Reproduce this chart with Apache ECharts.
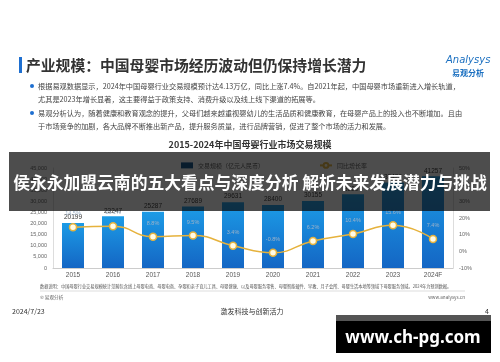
<!DOCTYPE html>
<html><head><meta charset="utf-8">
<script src="https://cdn.jsdelivr.net/npm/echarts@6/dist/echarts.min.js"></script>
<style>html,body{margin:0;padding:0;background:#fff;}#c{width:500px;height:362px;}</style>
</head><body><div id="c"></div>
<script>
const categories = ['2015','2016','2017','2018','2019','2020','2021','2022','2023','2024F'];
const scaleValues = [20199, 23247, 25287, 27689, 29631, 28400, 30155, 33200, 38420, 41257];
const growthValues = [14.5, 15.1, 8.8, 9.5, 3.4, -0.8, 6.2, 10.4, 15.6, 7.4];
const leftTicks = [0, 45000, 5000];
const rightTicks = [-10, 50, 10];

const CJK = '"Noto Sans CJK SC","Noto Sans",sans-serif';
const chart = echarts.init(document.getElementById('c'));
function txt(x, y, s, size, color, extra) {
  return Object.assign({type:'text', x:x, y:y, z:50, style: Object.assign({text:s, fontSize:size, fill:color, fontFamily:CJK, textVerticalAlign:'middle'}, extra||{})});
}
const bullet1a = '根据易观数据显示，2024年中国母婴行业交易规模预计达4.13万亿，同比上涨7.4%。自2021年起，中国母婴市场重新进入增长轨道，';
const bullet1b = '尤其是2023年增长显著，这主要得益于政策支持、消费升级以及线上线下渠道的拓展等。';
const bullet2a = '易观分析认为，随着健康和教育观念的提升，父母们越来越重视婴幼儿的生活品质和健康教育，在母婴产品上的投入也不断增加。且由';
const bullet2b = '于市场竞争的加剧，各大品牌不断推出新产品，提升服务质量，进行品牌营销，促进了整个市场的活力和发展。';
const note = '数据说明：中国母婴行业交易规模统计范畴包含线上母婴电商、母婴电商、孕婴和亲子育儿工具、母婴健康、以及母婴服务零售、母婴智能硬件、早教、月子会所、母婴生活本地等领域下母婴服务领域。2024年为预测数据。';

chart.setOption({
  backgroundColor:'#fff',
  animation:false,
  grid:{left:53, right:47, top:168, bottom:94},
  legend:{
    top:157, left:176, itemGap:55, itemWidth:12, itemHeight:6,
    textStyle:{fontSize:6, color:'#555', fontFamily:CJK},
    data:[{name:'交易规模（亿元人民币）', icon:'rect', itemStyle:{color:'#0d4f8a'}}, {name:'同比增长率'}]
  },
  xAxis:{type:'category', data:categories,
    axisLine:{lineStyle:{color:'#ccc'}}, axisTick:{show:false},
    axisLabel:{fontSize:6.5, color:'#555', margin:4}},
  yAxis:[
    {type:'value', min:leftTicks[0], max:leftTicks[1], interval:leftTicks[2],
      axisLine:{show:true, lineStyle:{color:'#ddd'}}, splitLine:{show:false},
      axisLabel:{fontSize:5.5, color:'#666', margin:6}},
    {type:'value', min:rightTicks[0], max:rightTicks[1], interval:rightTicks[2],
      axisLine:{show:true, lineStyle:{color:'#ddd'}}, splitLine:{show:false},
      axisLabel:{fontSize:5.5, color:'#666', margin:6, formatter:'{value}%'}}
  ],
  series:[
    {name:'交易规模（亿元人民币）', type:'bar', data:scaleValues, barWidth:22,
      itemStyle:{color:new echarts.graphic.LinearGradient(0,0,0,1,[{offset:0,color:'#1c9be6'},{offset:1,color:'#1466c4'}])},
      label:{show:true, position:'top', distance:2, fontSize:6.5, color:'#333'}},
    {name:'同比增长率', type:'line', yAxisIndex:1, data:growthValues, smooth:true,
      symbol:'circle', symbolSize:7,
      lineStyle:{color:'#e6b23c', width:1.5},
      itemStyle:{color:'#fffbe6', borderColor:'#e6b23c', borderWidth:1.5},
      label:{show:true, position:'top', distance:6, fontSize:5.5, color:'#9fb3c8', formatter:'{c}%'}}
  ],
  graphic:[
    {type:'rect', z:50, shape:{x:19, y:57, width:3, height:16}, style:{fill:'#1e6fd0'}},
    txt(26, 65, '产业规模：中国母婴市场经历波动但仍保持增长潜力', 14.8, '#333', {fontWeight:'bold'}),
    txt(446, 60, 'Analysys', 10, '#1a6fc0', {fontStyle:'italic', fontFamily:'"DejaVu Sans",sans-serif'}),
    txt(452, 73, '易观分析', 8, '#1a6fc0', {fontWeight:'bold'}),
    {type:'circle', z:50, shape:{cx:32, cy:86, r:2}, style:{fill:'#1e6fd0'}},
    txt(38, 86, bullet1a, 7.2, '#444'),
    txt(38, 99, bullet1b, 7.2, '#444'),
    {type:'circle', z:50, shape:{cx:32, cy:113, r:2}, style:{fill:'#1e6fd0'}},
    txt(38, 113, bullet2a, 7.2, '#444'),
    txt(38, 126, bullet2b, 7.2, '#444'),
    txt(250, 145, '2015-2024年中国母婴行业市场交易规模', 9, '#333', {fontWeight:'bold', textAlign:'center'}),
    txt(40, 286, note, 4.2, '#555'),
    {type:'line', z:50, shape:{x1:40, y1:291, x2:465, y2:291}, style:{stroke:'#ddd', lineWidth:1}},
    txt(40, 297, '© 易观分析', 4.6, '#666'),
    txt(465, 297, 'www.analysys.cn', 4.6, '#666', {textAlign:'right'}),
    txt(12, 311, '2024/7/23', 7, '#333'),
    txt(252, 311, '激发科技与创新活力', 7, '#333', {textAlign:'center'}),
    txt(489, 311, '4', 7, '#333', {textAlign:'right'}),
    {type:'rect', z:100, shape:{x:9, y:152, width:481, height:59}, style:{fill:'rgba(8,8,8,0.72)'}},
    {type:'text', z:101, x:250, y:183, style:{text:'侯永永加盟云南的五大看点与深度分析 解析未来发展潜力与挑战', fontSize:16.8, fontWeight:'bold', fill:'#fff', fontFamily:CJK, textAlign:'center', textVerticalAlign:'middle'}},
    {type:'rect', z:100, shape:{x:336, y:315, width:155, height:38}, style:{fill:'#000'}},
    {type:'rect', z:101, shape:{x:336, y:315, width:155, height:6}, style:{fill:'#555'}},
    {type:'text', z:102, x:413, y:338, style:{text:'www.ch-pg.com', fontSize:17, fontWeight:'bold', fill:'#fff', fontFamily:'"Noto Sans",sans-serif', textAlign:'center', textVerticalAlign:'middle'}}
  ]
});
</script></body></html>
